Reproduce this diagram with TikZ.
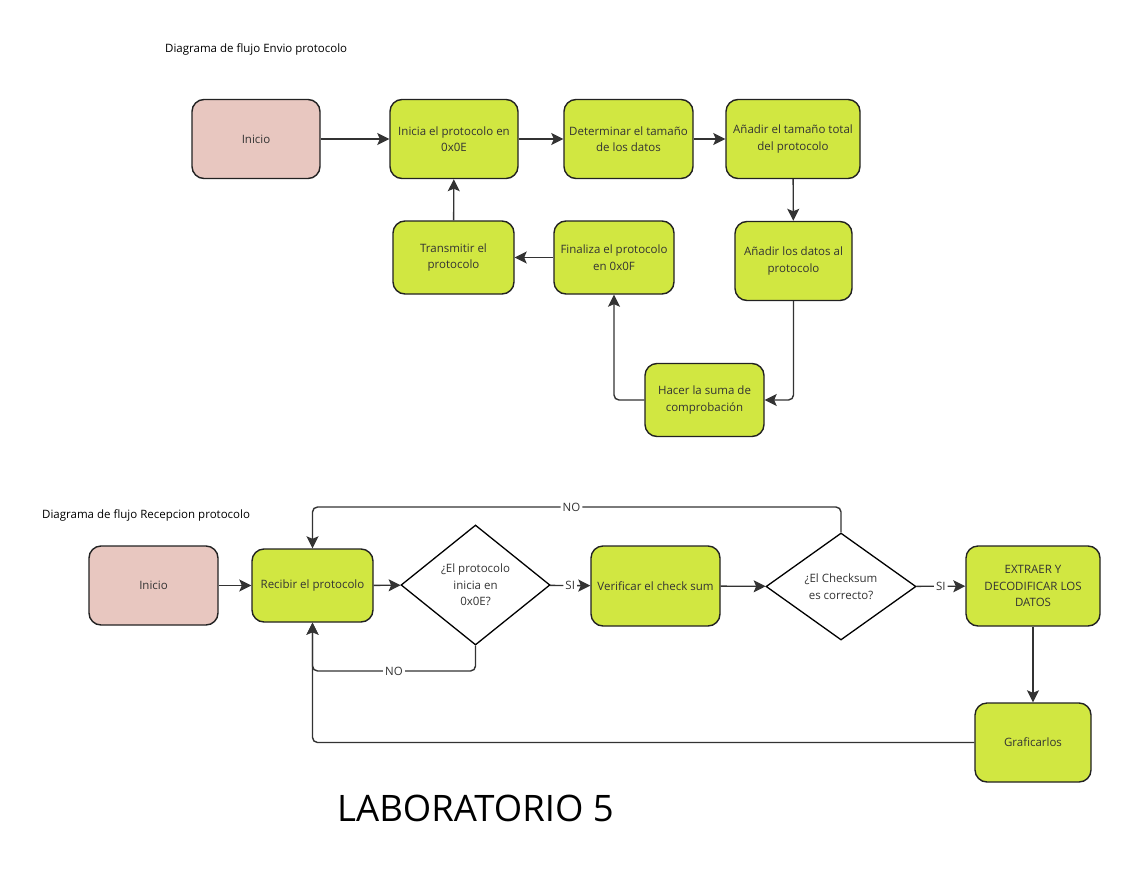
\documentclass[tikz,border=0pt]{standalone}
\usepackage{fontspec}
\setmainfont{Open Sans}
\usetikzlibrary{arrows.meta,shapes.geometric}
\definecolor{boxgreen}{HTML}{D1E741}
\definecolor{boxpink}{HTML}{E8C7C0}
\definecolor{edge}{HTML}{222222}
\definecolor{wire}{HTML}{333333}
\definecolor{txt}{HTML}{333333}
\tikzset{
  box/.style={draw=edge, line width=1.4pt, rounded corners=12pt, fill=boxgreen, align=center,
    inner sep=0pt, font=\fontsize{11.5}{16.5}\selectfont, text=txt},
  startbox/.style={box, fill=boxpink},
  decision/.style={draw=black, line width=1.3pt, shape=diamond, fill=white, align=center, inner sep=0pt,
    font=\fontsize{11.5}{16.5}\selectfont, text=txt},
  flow/.style={draw=wire, line width=1.4pt, rounded corners=5pt, -{Stealth[length=12pt,width=12pt,inset=2.5pt]}},
  lbl/.style={fill=white, inner sep=2pt, font=\fontsize{11.5}{13}\selectfont, text=txt},
  ttl/.style={font=\fontsize{11.5}{13}\selectfont, text=black, anchor=west, inner sep=0pt}
}
\begin{document}
\begin{tikzpicture}[x=1pt,y=-1pt]
\useasboundingbox[fill=white] (0,0) rectangle (1142,875);

% ---------- top diagram ----------
\node[ttl] (t1) at (165,49) {Diagrama de flujo Envio protocolo};
\node[startbox, minimum width=128pt, minimum height=79pt] (ini1) at (256,139) {Inicio};
\node[box, minimum width=128pt, minimum height=79pt] (a1) at (454,139) {Inicia el protocolo en\\0x0E};
\node[box, minimum width=129pt, minimum height=79pt] (a2) at (628.5,139) {Determinar el tamaño\\de los datos};
\node[box, minimum width=134pt, minimum height=79pt] (a3) at (793,139) {Añadir el tamaño total\\del protocolo};
\node[box, minimum width=117pt, minimum height=79pt] (a4) at (793.5,261) {Añadir los datos al\\protocolo};
\node[box, minimum width=119pt, minimum height=73pt] (a5) at (704.5,400) {Hacer la suma de\\comprobación};
\node[box, minimum width=120pt, minimum height=73pt] (a6) at (614,257.5) {Finaliza el protocolo\\en 0x0F};
\node[box, minimum width=121pt, minimum height=73pt] (a7) at (453.5,257.5) {Transmitir el\\protocolo};

\draw[flow] (ini1) -- (a1);
\draw[flow] (a1) -- (a2);
\draw[flow] (a2) -- (a3);
\draw[flow] (a3) -- (a4);
\draw[flow] (a4.south) |- (a5.east);
\draw[flow] (a5.west) -| (a6.south);
\draw[flow] (a6) -- (a7);
\draw[flow] (a7) -- (a1);

% ---------- bottom diagram ----------
\node[ttl] (t2) at (42,515) {Diagrama de flujo Recepcion protocolo};
\node[startbox, minimum width=129pt, minimum height=79pt] (ini2) at (153.5,585.5) {Inicio};
\node[box, minimum width=121pt, minimum height=73pt] (b1) at (312.5,585.5) {Recibir el protocolo};
\node[decision, minimum width=149pt, minimum height=120pt] (d1) at (475.5,585) {¿El protocolo\\inicia en\\0x0E?};
\node[box, minimum width=129pt, minimum height=80pt] (b2) at (655.5,586) {Verificar el check sum};
\node[decision, minimum width=150pt, minimum height=107pt] (d2) at (841,586.5) {¿El Checksum\\es correcto?};
\node[box, minimum width=134pt, minimum height=80pt] (b3) at (1033,586) {EXTRAER Y\\DECODIFICAR LOS\\DATOS};
\node[box, minimum width=116pt, minimum height=79pt] (b4) at (1033,742.5) {Graficarlos};

\coordinate (up) at (0,507);
\coordinate (lo) at (0,671);

\draw[flow] (ini2) -- (b1);
\draw[flow] (b1) -- (d1);
\draw[flow] (d1) -- node[lbl] {SI} (b2);
\draw[flow] (b2) -- (d2);
\draw[flow] (d2) -- node[lbl] {SI} (b3);
\draw[flow] (b3) -- (b4);
\draw[flow] (b4.west) -| (b1.south);
\draw[flow] (d1.south) -- (d1.south |- lo) -- node[lbl] {NO} (b1.south |- lo) -- (b1.south);
\draw[flow] (d2.north) -- (d2.north |- up) -- node[lbl, pos=0.51] {NO} (b1.north |- up) -- (b1.north);

\node[font=\fontsize{36.5}{40}\selectfont, text=black, anchor=west, inner sep=0pt] (lab) at (337,808) {LABORATORIO 5};
\end{tikzpicture}
\end{document}
